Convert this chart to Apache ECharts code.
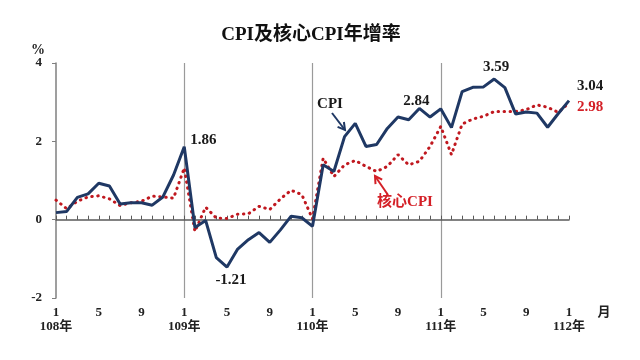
<!DOCTYPE html>
<html><head><meta charset="utf-8">
<script src="https://cdn.jsdelivr.net/npm/echarts@6/dist/echarts.min.js"></script>
<style>html,body{margin:0;padding:0;background:#fff}#c{width:640px;height:360px}</style>
</head><body><div id="c"></div>
<script>
const years = ['108年','109年','110年','111年','112年'];
const monthTicks = ['1','5','9'];
const cpi = [0.18,0.21,0.57,0.66,0.93,0.86,0.40,0.43,0.43,0.37,0.58,1.14,
  1.86,-0.20,-0.02,-0.97,-1.21,-0.75,-0.51,-0.33,-0.58,-0.26,0.09,0.05,
  -0.17,1.40,1.23,2.12,2.46,1.87,1.92,2.33,2.62,2.55,2.84,2.62,
  2.83,2.35,3.27,3.38,3.39,3.59,3.37,2.70,2.75,2.72,2.36,2.71,3.04];
const core = [0.50,0.28,0.47,0.58,0.61,0.53,0.36,0.43,0.47,0.60,0.58,0.55,
  1.32,-0.30,0.32,0.04,0.03,0.14,0.15,0.34,0.26,0.53,0.75,0.64,
  0.02,1.57,1.10,1.40,1.51,1.36,1.23,1.36,1.66,1.40,1.49,1.87,
  2.38,1.66,2.44,2.57,2.64,2.76,2.76,2.76,2.81,2.93,2.87,2.74,2.98];
const categories = [];
for (let i = 0; i < cpi.length; i++) {
  categories.push(years[Math.floor(i / 12)] + (i % 12 + 1) + '月');
}
const serif = '"Liberation Serif","Noto Sans CJK TC",serif';
const navy = '#1f3864';
const red = '#d42027';
const chart = echarts.init(document.getElementById('c'));
function mp(arr, i, off, color) {
  return {coord: [categories[i], arr[i]], value: arr[i],
    label: {offset: off, color: color}};
}
chart.setOption({
  animation: false,
  grid: {left: 56, right: 71, top: 63, bottom: 62},
  xAxis: [{
    type: 'category', data: categories, boundaryGap: false, position: 'bottom',
    axisLine: {onZero: true, lineStyle: {color: '#595959', width: 1.5}},
    axisTick: {show: true, inside: true, length: 4, interval: 0, lineStyle: {color: '#595959'}},
    axisLabel: {show: false},
    splitLine: {show: true, interval: (i) => i % 12 === 0 && i > 0 && i < 48,
      lineStyle: {color: '#9a9a9a', width: 1.2}}
  }, {
    type: 'category', data: categories, boundaryGap: false, position: 'bottom',
    axisLine: {show: false, onZero: false}, axisTick: {show: false},
    axisLabel: {
      interval: (i) => i % 4 === 0, margin: 8,
      fontFamily: serif, fontWeight: 'bold', fontSize: 13, color: '#222', lineHeight: 14,
      formatter: (v, i) => {
        const m = monthTicks[(i % 12) / 4];
        return i % 12 === 0 ? m + '\n{y|' + years[i / 12] + '}' : m;
      },
      rich: {y: {fontFamily: serif, fontWeight: 'bold', fontSize: 13, color: '#222', lineHeight: 14}}
    }
  }],
  yAxis: {
    type: 'value', min: -2, max: 4, interval: 2,
    axisLine: {show: true, lineStyle: {color: '#7f7f7f', width: 1.5}},
    axisTick: {show: true, length: 4, lineStyle: {color: '#7f7f7f'}},
    axisLabel: {margin: 14, fontFamily: serif, fontWeight: 'bold', fontSize: 13, color: '#222'},
    splitLine: {show: false}
  },
  series: [{
    name: '核心CPI', type: 'line', data: core, xAxisIndex: 0, symbol: 'none', z: 2,
    lineStyle: {color: '#c0181f', width: 3, type: [0.5, 5.5], cap: 'round'},
    markPoint: {symbol: 'circle', symbolSize: 1, itemStyle: {color: 'rgba(0,0,0,0)'},
      label: {show: true, position: 'inside', fontFamily: serif, fontWeight: 'bold', fontSize: 15,
        formatter: (p) => p.value.toFixed(2)},
      data: [mp(core, 48, [21, 4], red)]}
  }, {
    name: 'CPI', type: 'line', data: cpi, xAxisIndex: 0, symbol: 'none', z: 3,
    lineStyle: {color: navy, width: 3},
    markPoint: {symbol: 'circle', symbolSize: 1, itemStyle: {color: 'rgba(0,0,0,0)'},
      label: {show: true, position: 'inside', fontFamily: serif, fontWeight: 'bold', fontSize: 15,
        formatter: (p) => p.value.toFixed(2)},
      data: [mp(cpi, 12, [19, -7], '#1a1a1a'), mp(cpi, 16, [4, 13], '#1a1a1a'),
        mp(cpi, 34, [-3, -7], '#1a1a1a'), mp(cpi, 41, [2, -12], '#1a1a1a'),
        mp(cpi, 48, [21, -14], '#1a1a1a')]}
  }],
  graphic: [
    {type: 'text', style: {x: 311, y: 35, text: 'CPI及核心CPI年增率', align: 'center', verticalAlign: 'middle',
      font: 'bold 19px ' + serif, fill: '#111'}},
    {type: 'text', style: {x: 38, y: 50, text: '%', align: 'center', verticalAlign: 'middle',
      font: 'bold 14px ' + serif, fill: '#222'}},
    {type: 'text', style: {x: 604, y: 313, text: '月', align: 'center', verticalAlign: 'middle',
      font: 'bold 13px ' + serif, fill: '#222'}},
    {type: 'text', style: {x: 330, y: 104, text: 'CPI', align: 'center', verticalAlign: 'middle',
      font: 'bold 15px ' + serif, fill: '#1a1a1a'}},
    {type: 'line', shape: {x1: 332, y1: 113, x2: 345, y2: 130}, style: {stroke: navy, lineWidth: 2}},
    {type: 'polyline', shape: {points: [[337.6, 126.9], [345, 130], [343.9, 122]]}, style: {stroke: navy, lineWidth: 2, fill: null}},
    {type: 'text', style: {x: 405, y: 202, text: '核心CPI', align: 'center', verticalAlign: 'middle',
      font: 'bold 15px ' + serif, fill: red}},
    {type: 'line', shape: {x1: 388, y1: 195, x2: 375, y2: 176}, style: {stroke: red, lineWidth: 2}},
    {type: 'polyline', shape: {points: [[382.2, 179.7], [375, 176], [375.5, 184.1]]}, style: {stroke: red, lineWidth: 2, fill: null}}
  ]
});
</script></body></html>
